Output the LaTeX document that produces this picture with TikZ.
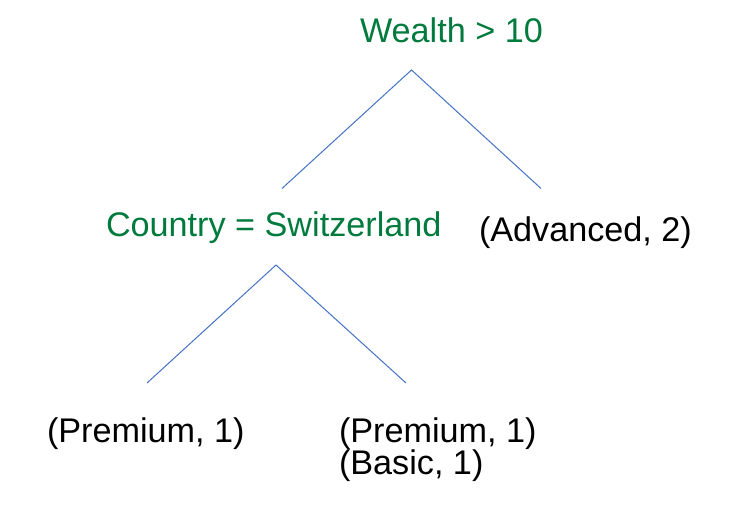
\documentclass[tikz,border=0pt]{standalone}
\usepackage{fontspec}
\setmainfont{Liberation Sans}
\definecolor{splitgreen}{RGB}{0,122,61}
\definecolor{edgeblue}{RGB}{68,114,196}
\tikzset{
  lbl/.style={anchor=base west, inner sep=0pt, outer sep=0pt, font=\fontsize{34.2}{32}\selectfont},
  split/.style={lbl, text=splitgreen},
  leaf/.style={lbl, text=black},
  edge/.style={draw=edgeblue, line width=1pt}
}
\begin{document}
\begin{tikzpicture}[x=1pt,y=-1pt]
\useasboundingbox (0,0) rectangle (732,510);
\node[split] (w) at (360,42.5) {Wealth > 10};
\node[split] (c) at (106,237) {Country = Switzerland};
\node[leaf] (a) at (479,242) {(Advanced, 2)};
\node[leaf] (p1) at (47,443) {(Premium, 1)};
\node[leaf] (p2) at (339,443) {(Premium, 1)};
\node[leaf] (b2) at (339,475) {(Basic, 1)};
\coordinate (wtop) at (411.5,70);
\coordinate (wl) at (282,188.5);
\coordinate (wr) at (541,188.5);
\coordinate (ctop) at (276,265);
\coordinate (cl) at (147,383);
\coordinate (cr) at (406,383);
\draw[edge] (wl) -- (wtop) -- (wr);
\draw[edge] (cl) -- (ctop) -- (cr);
\end{tikzpicture}
\end{document}
